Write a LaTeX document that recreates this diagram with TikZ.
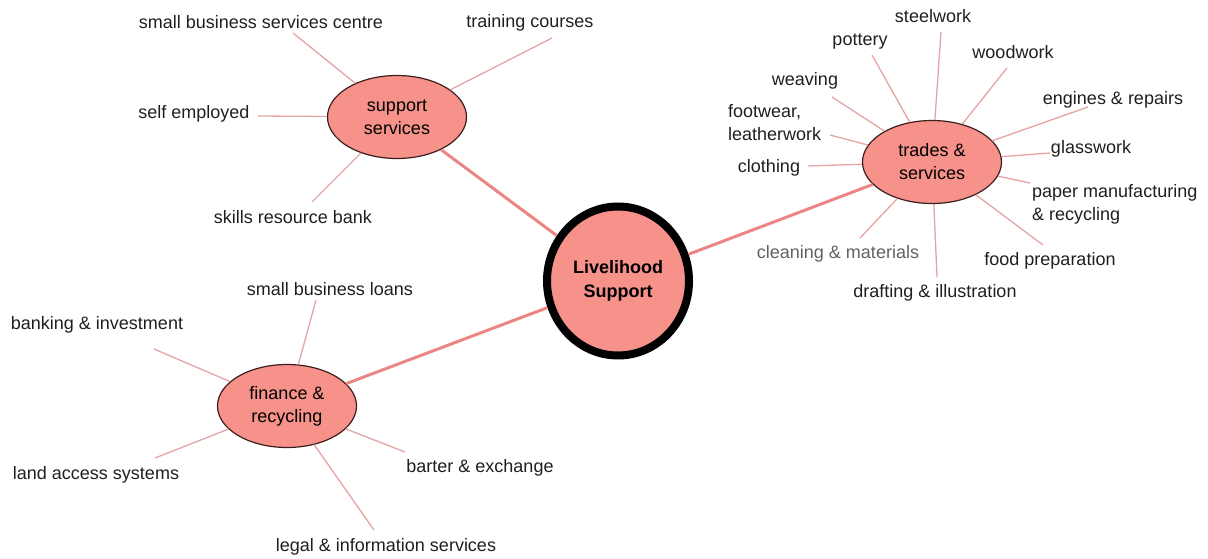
\documentclass[tikz,border=0pt]{standalone}
\usepackage{fontspec}
\setmainfont{Liberation Sans}
\usetikzlibrary{shapes.geometric}
\definecolor{salmon}{RGB}{246,146,138}
\definecolor{spokecol}{RGB}{229,163,163}
\definecolor{branchcol}{RGB}{236,134,134}
\definecolor{rim}{RGB}{60,30,30}
\begin{document}
\begin{tikzpicture}[
    x=1pt, y=-1pt,
    font=\fontsize{18}{23}\selectfont,
    align=center,
    hub/.style={ellipse, draw=rim, line width=1.2pt, fill=salmon,
      inner sep=0pt, minimum width=139pt, minimum height=83pt},
    core/.style={ellipse, draw=black, line width=8pt, fill=salmon,
      inner sep=0pt, minimum width=142pt, minimum height=149pt,
      font=\fontsize{18}{24}\selectfont\bfseries},
    leaf/.style={text=black!88, inner sep=0pt, yshift=-2.5pt},
    spoke/.style={draw=spokecol, line width=1.3pt},
    branch/.style={draw=branchcol, line width=3pt},
  ]
  \useasboundingbox (0,0) rectangle (1208,559);

  \node[core] (livelihood) at (618,281) {Livelihood\\Support};
  \node[hub] (support) at (397,117) {support\\services};
  \node[hub] (trades) at (932,162) {trades \&\\services};
  \node[hub] (finance) at (287,406) {finance \&\\recycling};

  \draw[branch] (support) -- (livelihood);
  \draw[branch] (trades) -- (livelihood);
  \draw[branch] (finance) -- (livelihood);

  % support services
  \node[leaf] (centre) at (261,20) {small business services centre};
  \node[leaf] (training) at (530,20) {training courses};
  \node[leaf] (selfemp) at (194,111) {self employed};
  \node[leaf] (skills) at (293,215) {skills resource bank};
  \coordinate (centre-end) at (293,33);
  \coordinate (training-end) at (552,38);
  \coordinate (selfemp-end) at (258,116);
  \coordinate (skills-end) at (312,202);
  \draw[spoke] (support) -- (centre-end);
  \draw[spoke] (support) -- (training-end);
  \draw[spoke] (support) -- (selfemp-end);
  \draw[spoke] (support) -- (skills-end);

  % trades & services
  \node[leaf] (steel) at (933,14) {steelwork};
  \node[leaf] (pottery) at (860,39) {pottery};
  \node[leaf] (wood) at (1013,50) {woodwork};
  \node[leaf] (weaving) at (805,78) {weaving};
  \node[leaf, anchor=west, align=left] (footwear) at (728,120) {footwear,\\leatherwork};
  \node[leaf] (clothing) at (769,165) {clothing};
  \node[leaf] (engines) at (1113,97) {engines \& repairs};
  \node[leaf] (glass) at (1091,146) {glasswork};
  \node[leaf, anchor=west, align=left] (paper) at (1032,202) {paper manufacturing\\\& recycling};
  \node[leaf] (food) at (1050,258) {food preparation};
  \node[leaf] (drafting) at (935,290) {drafting \& illustration};
  \node[leaf, text=black!62] (cleaning) at (838,251) {cleaning \& materials};
  \coordinate (steel-end) at (941,32);
  \coordinate (pottery-end) at (872,55);
  \coordinate (wood-end) at (1007,68);
  \coordinate (weaving-end) at (832,97);
  \coordinate (footwear-end) at (830,135);
  \coordinate (clothing-end) at (808,166);
  \coordinate (engines-end) at (1088,107);
  \coordinate (glass-end) at (1050,153);
  \coordinate (paper-end) at (1030,183);
  \coordinate (food-end) at (1043,245);
  \coordinate (drafting-end) at (937,277);
  \coordinate (cleaning-end) at (860,238);
  \draw[spoke] (trades) -- (steel-end);
  \draw[spoke] (trades) -- (pottery-end);
  \draw[spoke] (trades) -- (wood-end);
  \draw[spoke] (trades) -- (weaving-end);
  \draw[spoke] (trades) -- (footwear-end);
  \draw[spoke] (trades) -- (clothing-end);
  \draw[spoke] (trades) -- (engines-end);
  \draw[spoke] (trades) -- (glass-end);
  \draw[spoke] (trades) -- (paper-end);
  \draw[spoke] (trades) -- (food-end);
  \draw[spoke] (trades) -- (drafting-end);
  \draw[spoke] (trades) -- (cleaning-end);

  % finance & recycling
  \node[leaf] (loans) at (330,287) {small business loans};
  \node[leaf] (banking) at (97,322) {banking \& investment};
  \node[leaf] (land) at (96,472) {land access systems};
  \node[leaf] (barter) at (480,465) {barter \& exchange};
  \node[leaf] (legal) at (386,544) {legal \& information services};
  \coordinate (loans-end) at (316,300);
  \coordinate (banking-end) at (154,349);
  \coordinate (land-end) at (155,458);
  \coordinate (barter-end) at (405,452);
  \coordinate (legal-end) at (374,530);
  \draw[spoke] (finance) -- (loans-end);
  \draw[spoke] (finance) -- (banking-end);
  \draw[spoke] (finance) -- (land-end);
  \draw[spoke] (finance) -- (barter-end);
  \draw[spoke] (finance) -- (legal-end);
\end{tikzpicture}
\end{document}
